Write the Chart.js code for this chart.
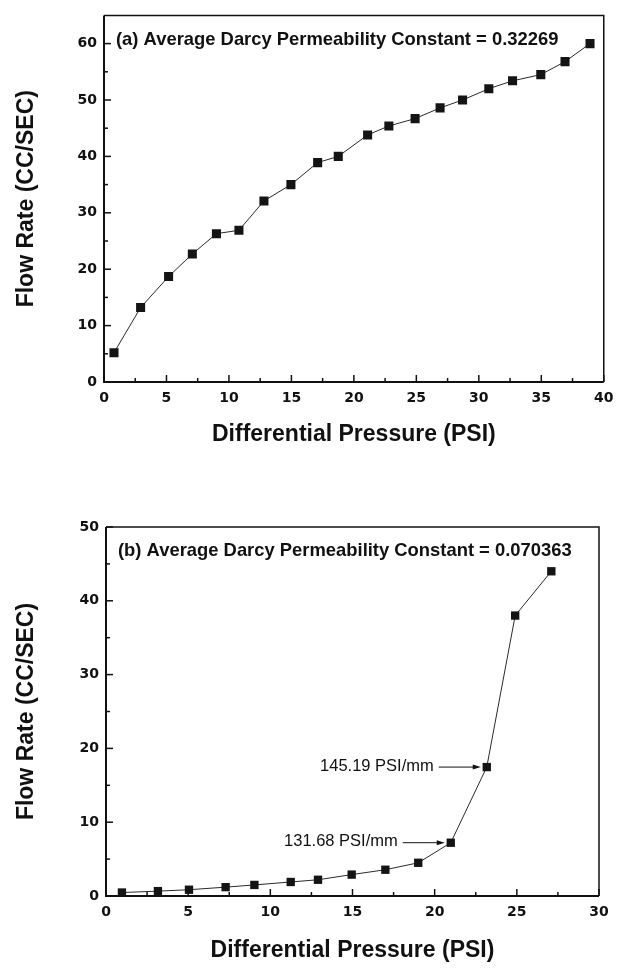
<!DOCTYPE html>
<html>
<head>
<meta charset="utf-8">
<script src="https://cdn.jsdelivr.net/npm/chart.js@4.4.0/dist/chart.umd.min.js"></script>
<style>
  html, body { margin: 0; padding: 0; background: #ffffff; }
  #wrap { position: relative; width: 621px; height: 972px; background: #ffffff; overflow: hidden; }
  #c1 { position: absolute; left: 0; top: 0; }
  #c2 { position: absolute; left: 0; top: 470px; }
</style>
</head>
<body>
<div id="wrap">
  <canvas id="c1" width="621" height="470"></canvas>
  <canvas id="c2" width="621" height="502"></canvas>
</div>
<script>
// ---------- DATA ----------
// Panel (a)
const topPressure = [0.8, 2.93, 5.17, 7.07, 9.0, 10.8, 12.8, 14.96, 17.1, 18.75, 21.1, 22.8, 24.9, 26.9, 28.7, 30.8, 32.7, 34.96, 36.9, 38.9];
const topFlow     = [5.2, 13.2, 18.7, 22.7, 26.3, 26.9, 32.1, 35.0, 38.9, 40.0, 43.8, 45.4, 46.7, 48.6, 50.0, 52.0, 53.4, 54.5, 56.8, 60.0];
const topXTicks = [0, 5, 10, 15, 20, 25, 30, 35, 40];
const topYTicks = [0, 10, 20, 30, 40, 50, 60];
const topLabel = '(a) Average Darcy Permeability Constant = 0.32269';

// Panel (b)
const bottomPressure = [0.97, 3.16, 5.05, 7.28, 9.03, 11.24, 12.9, 14.95, 17.0, 19.0, 20.98, 23.17, 24.9, 27.1];
const bottomFlow     = [0.47, 0.66, 0.85, 1.2, 1.5, 1.9, 2.2, 2.9, 3.56, 4.5, 7.22, 17.47, 38.0, 44.0];
const bottomXTicks = [0, 5, 10, 15, 20, 25, 30];
const bottomYTicks = [0, 10, 20, 30, 40, 50];
const bottomLabel = '(b) Average Darcy Permeability Constant = 0.070363';
const bottomNotes = [
  { text: '145.19 PSI/mm', index: 11 },
  { text: '131.68 PSI/mm', index: 10 }
];

const xTitle = 'Differential Pressure (PSI)';
const yTitle = 'Flow Rate (CC/SEC)';

// ---------- DECORATION PLUGIN ----------
const deco = {
  id: 'deco',
  afterDatasetsDraw(chart, args, opts) {
    const ctx = chart.ctx;
    const a = chart.chartArea;
    const xs = chart.scales.x, ys = chart.scales.y;
    ctx.save();
    // frame
    ctx.strokeStyle = '#111';
    ctx.lineWidth = 1.5;
    ctx.beginPath();
    ctx.moveTo(a.left, a.top); ctx.lineTo(a.right, a.top); ctx.lineTo(a.right, a.bottom);
    ctx.stroke();
    ctx.lineWidth = 2;
    ctx.beginPath();
    ctx.moveTo(a.left, a.top); ctx.lineTo(a.left, a.bottom); ctx.lineTo(a.right, a.bottom);
    ctx.stroke();
    // inward ticks
    ctx.lineWidth = 1.5;
    const tickSet = (majors, max) => {
      const out = [];
      majors.forEach((v, i) => {
        out.push({ v, major: true });
        const step = i + 1 < majors.length ? majors[i + 1] - v : majors[1] - majors[0];
        const mid = v + step / 2;
        if (mid < max) out.push({ v: mid, major: false });
      });
      return out;
    };
    tickSet(opts.xTicks, xs.max).forEach(t => {
      const px = xs.getPixelForValue(t.v);
      const len = t.major ? 7 : 4;
      ctx.beginPath(); ctx.moveTo(px, a.bottom); ctx.lineTo(px, a.bottom - len); ctx.stroke();
    });
    tickSet(opts.yTicks, ys.max).forEach(t => {
      const py = ys.getPixelForValue(t.v);
      const len = t.major ? 7 : 4;
      ctx.beginPath(); ctx.moveTo(a.left, py); ctx.lineTo(a.left + len, py); ctx.stroke();
    });
    // panel label
    ctx.fillStyle = '#111';
    ctx.font = 'bold 18.4px "Liberation Sans", Arial, sans-serif';
    ctx.textAlign = 'left';
    ctx.textBaseline = 'middle';
    ctx.fillText(opts.label, a.left + 12, a.top + opts.labelDy);
    // arrow annotations
    (opts.notes || []).forEach(n => {
      const meta = chart.getDatasetMeta(0);
      const el = meta.data[n.index];
      const px = el.x, py = el.y;
      const ty = py - 1;
      ctx.font = '16.5px "Liberation Sans", Arial, sans-serif';
      ctx.textAlign = 'right';
      ctx.textBaseline = 'middle';
      ctx.fillStyle = '#111';
      ctx.fillText(n.text, px - 53, ty);
      const x0 = px - 48, x1 = px - 6;
      ctx.strokeStyle = '#111';
      ctx.lineWidth = 1;
      ctx.beginPath(); ctx.moveTo(x0, py); ctx.lineTo(x1 - 6, py); ctx.stroke();
      ctx.beginPath();
      ctx.moveTo(x1, py); ctx.lineTo(x1 - 8, py - 2.5); ctx.lineTo(x1 - 8, py + 2.5); ctx.closePath();
      ctx.fill();
    });
    ctx.restore();
  }
};

function makeChart(canvasId, xs, ys, xTicks, yTicks, xMax, yMax, cfg) {
  const points = xs.map((x, i) => ({ x, y: ys[i] }));
  return new Chart(document.getElementById(canvasId), {
    type: 'scatter',
    data: {
      datasets: [{
        data: points,
        showLine: true,
        borderColor: '#2a2a2a',
        borderWidth: 1,
        pointStyle: 'rect',
        pointRadius: cfg.pointRadius,
        pointHoverRadius: cfg.pointRadius,
        pointBackgroundColor: '#141414',
        pointBorderWidth: 0,
        tension: 0
      }]
    },
    options: {
      responsive: false,
      animation: false,
      devicePixelRatio: 1,
      layout: { padding: { left: 0, top: cfg.top, right: cfg.right, bottom: 0 } },
      plugins: {
        legend: { display: false },
        tooltip: { enabled: false },
        deco: { xTicks, yTicks, label: cfg.label, labelDy: cfg.labelDy, notes: cfg.notes }
      },
      scales: {
        x: {
          type: 'linear', min: 0, max: xMax,
          afterBuildTicks: s => { s.ticks = xTicks.map(v => ({ value: v })); },
          afterFit: s => { s.height = cfg.xHeight; },
          grid: { display: false, drawTicks: false },
          border: { display: false },
          ticks: {
            autoSkip: false, maxRotation: 0, padding: cfg.xPad, color: '#111',
            font: { family: '"DejaVu Sans", sans-serif', weight: 'bold', size: 14 }
          },
          title: {
            display: true, text: xTitle, color: '#111',
            font: { family: '"Liberation Sans", Arial, sans-serif', weight: 'bold', size: 23 },
            padding: { top: 0, bottom: cfg.xTitlePad }
          }
        },
        y: {
          type: 'linear', min: 0, max: yMax,
          afterBuildTicks: s => { s.ticks = yTicks.map(v => ({ value: v })); },
          afterFit: s => { s.width = cfg.yWidth; },
          grid: { display: false, drawTicks: false },
          border: { display: false },
          ticks: {
            autoSkip: false, padding: 7, color: '#111',
            font: { family: '"DejaVu Sans", sans-serif', weight: 'bold', size: 14 }
          },
          title: {
            display: true, text: yTitle, color: '#111',
            font: { family: '"Liberation Sans", Arial, sans-serif', weight: 'bold', size: 23 },
            padding: { top: 13, bottom: 0 }
          }
        }
      }
    },
    plugins: [deco]
  });
}

makeChart('c1', topPressure, topFlow, topXTicks, topYTicks, 40, 65, {
  top: 7, right: 17, xHeight: 88, yWidth: 104, xPad: 7.5, xTitlePad: 21.5,
  pointRadius: 6.4, label: topLabel, labelDy: 24.5, notes: []
});
makeChart('c2', bottomPressure, bottomFlow, bottomXTicks, bottomYTicks, 30, 50, {
  top: 57, right: 22, xHeight: 76, yWidth: 106, xPad: 7.5, xTitlePad: 8,
  pointRadius: 5.9, label: bottomLabel, labelDy: 23.5, notes: bottomNotes
});
</script>
</body>
</html>
